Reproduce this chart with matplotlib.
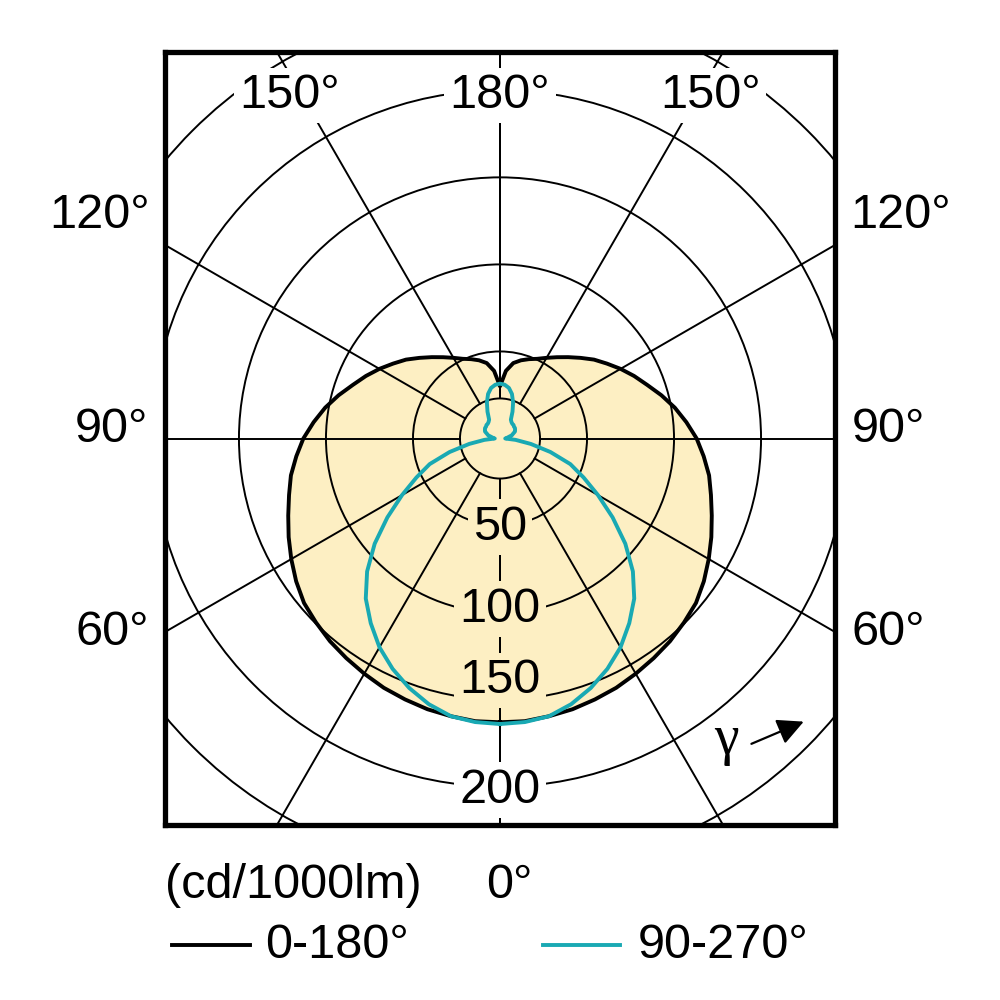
import numpy as np
import matplotlib
matplotlib.use("Agg")
import matplotlib.pyplot as plt
from matplotlib.patches import Circle
from matplotlib.lines import Line2D

plt.rcParams['font.family'] = ['Liberation Sans', 'DejaVu Sans']

# gamma angles (deg) and intensities (cd/1000lm)
gamma = [0, 5, 10, 15, 20, 25, 30, 35, 40, 45, 50, 55, 60, 65, 70, 75, 80, 85, 90,
         95, 100, 105, 110, 115, 120, 125, 130, 135, 140, 145, 150, 155, 160, 165, 170, 175, 180]
plane_0_180 = [163, 163, 162, 161, 159.5, 158, 156, 154, 152, 149.5, 147, 143, 138.5, 134, 129.5, 125.5, 122, 117.5, 113,
               107.5, 102, 96, 90, 85, 80, 75, 70.5, 65.5, 61, 57, 53.5, 50.5, 48.5, 46.5, 44, 39, 30]
plane_90_270 = [164, 163.5, 162, 158, 152.5, 146, 138.5, 129.5, 120, 108, 94, 79, 65, 53, 43, 30, 18, 9, 3,
                4, 5, 7, 8, 9.5, 10, 10.5, 10.5, 11, 11, 11.5, 12.5, 17, 22, 26.5, 29.5, 31, 31.5]

ring_values = [23, 50, 100, 150, 200, 250, 300]
ring_labels = ["50", "100", "150", "200"]
ring_label_y = [-51, -98, -139, -202]
spoke_angles = [0, 30, 60, 90, 120, 150, 180]

yellow = '#FDEFC3'
cyan = '#19A9B3'


def to_xy(ang, r, side=1):
    a = np.radians(ang)
    r = np.asarray(r, dtype=float)
    return side * r * np.sin(a), -r * np.cos(a)


fig = plt.figure(figsize=(10, 10), dpi=100)
ax = fig.add_axes([0.165, 0.175, 0.67, 0.773])
ax.set_xlim(-192.5, 192.5)
ax.set_ylim(-222, 222)
ax.set_xticks([])
ax.set_yticks([])
for s in ax.spines.values():
    s.set_linewidth(3.8)
    s.set_color('black')

# full closed curves: right half then mirrored left half
def closed(values):
    xr, yr = to_xy(gamma, values, 1)
    xl, yl = to_xy(gamma[::-1], values[::-1], -1)
    return np.concatenate([xr, xl]), np.concatenate([yr, yl])

bx, by = closed(plane_0_180)
cx, cy = closed(plane_90_270)

ax.fill(bx, by, color=yellow, zorder=1, lw=0)

# polar grid
for rv in ring_values:
    ax.add_patch(Circle((0, 0), rv, fill=False, color='black', lw=1.4, zorder=2))
for ang in spoke_angles:
    for side in (1, -1):
        x, y = to_xy([ang, ang], [ring_values[0], 400], side)
        ax.plot(x, y, color='black', lw=1.4, zorder=2)

# ring labels
for lab, yv in zip(ring_labels, ring_label_y):
    fc = yellow if lab != "200" else 'white'
    ax.text(0, yv, lab, ha='center', va='center', fontsize=35, zorder=3,
            bbox=dict(facecolor=fc, edgecolor='none', pad=4))

# angle labels
ax.text(0, 197, "180°", ha='center', va='center', fontsize=35, zorder=3,
        bbox=dict(facecolor='white', edgecolor='none', pad=4))
for side in (1, -1):
    ax.text(side * 121, 197, "150°", ha='center', va='center', fontsize=35, zorder=3,
            bbox=dict(facecolor='white', edgecolor='none', pad=4))
    ax.text(side * 230, 128, "120°", ha='center', va='center', fontsize=35, clip_on=False)
    ax.text(side * 223, 5, "90°", ha='center', va='center', fontsize=35, clip_on=False)
    ax.text(side * 223, -111.5, "60°", ha='center', va='center', fontsize=35, clip_on=False)

# curves
ax.plot(bx, by, color='black', lw=2.8, zorder=4, solid_joinstyle='round')
ax.plot(cx, cy, color=cyan, lw=2.8, zorder=5, solid_joinstyle='round')

# gamma arrow
ax.text(130, -173, "γ", fontsize=40, family='Liberation Serif', ha='center', va='center', zorder=6)
ax.annotate('', xy=(176, -162), xytext=(143, -176),
            arrowprops=dict(arrowstyle='-|>', mutation_scale=40, lw=1.6, color='black'), zorder=6)

# footer
fig.text(0.165, 0.115, "(cd/1000lm)", fontsize=35, va='center', ha='left')
fig.text(0.486, 0.115, "0°", fontsize=35, va='center', ha='left')
fig.add_artist(Line2D([0.172, 0.250], [0.055, 0.055], color='black', lw=2.8))
fig.text(0.265, 0.055, "0-180°", fontsize=35, va='center', ha='left')
fig.add_artist(Line2D([0.543, 0.620], [0.055, 0.055], color=cyan, lw=2.8))
fig.text(0.638, 0.055, "90-270°", fontsize=35, va='center', ha='left')

fig.savefig("out.png", dpi=100, facecolor='white')
